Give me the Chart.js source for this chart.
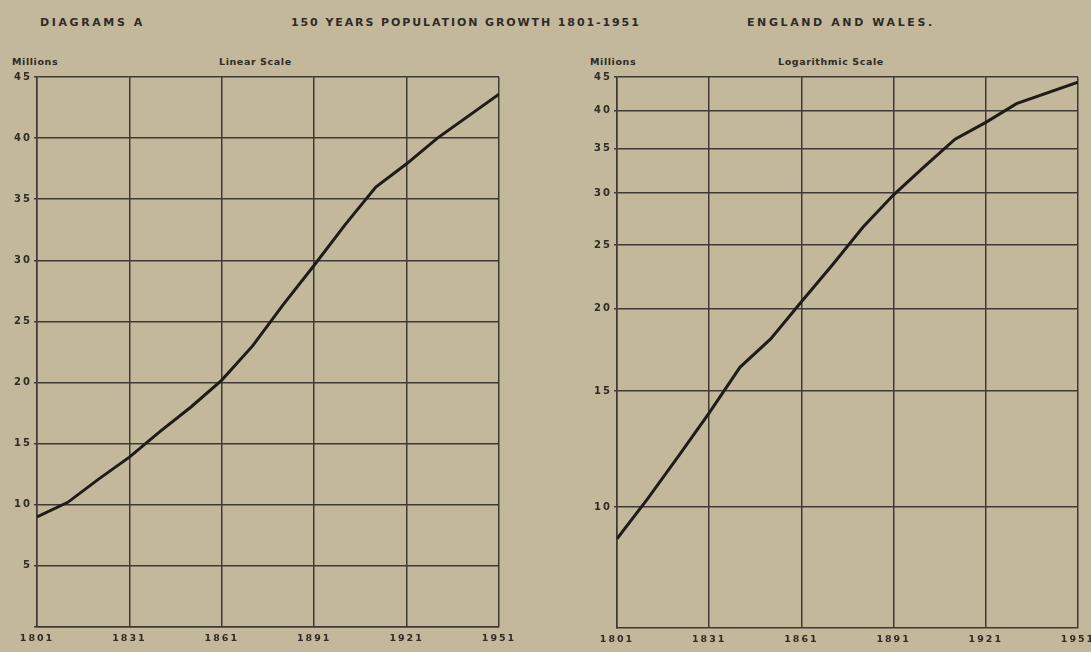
<!DOCTYPE html>
<html>
<head>
<meta charset="utf-8">
<script src="https://cdn.jsdelivr.net/npm/chart.js@4/dist/chart.umd.min.js"></script>
<style>
  body { margin:0; width:1091px; height:652px; background:#c4b89c; position:relative; overflow:hidden; }
  canvas { position:absolute; top:0; }
  .t { position:absolute; font-family:"DejaVu Sans", sans-serif; font-weight:bold; color:#2f2b25; white-space:nowrap; }
  .big { font-size:11px; letter-spacing:2.6px; top:16px; }
  .small { font-size:9.5px; letter-spacing:0.6px; top:56px; }
</style>
</head>
<body>
<div class="t big" style="left:40px">DIAGRAMS A</div>
<div class="t big" style="left:291px;letter-spacing:1.9px">150 YEARS POPULATION GROWTH 1801-1951</div>
<div class="t big" style="left:747px">ENGLAND AND WALES.</div>
<div class="t small" style="left:12px">Millions</div>
<div class="t small" style="left:219px">Linear Scale</div>
<div class="t small" style="left:590px">Millions</div>
<div class="t small" style="left:778px">Logarithmic Scale</div>
<canvas id="linChart" width="545" height="652" style="left:0"></canvas>
<canvas id="logChart" width="546" height="652" style="left:545px"></canvas>
<script>
// census years plotted (no census in 1941)
const years = [1801, 1811, 1821, 1831, 1841, 1851, 1861, 1871, 1881, 1891, 1901, 1911, 1921, 1931, 1951];
// population in millions
const linearValues = [9.0, 10.2, 12.1, 13.9, 16.0, 18.0, 20.2, 23.0, 26.4, 29.6, 32.9, 36.0, 37.9, 40.0, 43.6];
const logValues = [8.95, 10.3, 11.95, 13.9, 16.3, 18.0, 20.5, 23.3, 26.6, 29.8, 32.9, 36.2, 38.4, 41.0, 44.2];

const xTickYears = [1801, 1831, 1861, 1891, 1921, 1951];
const linearTicks = [0, 5, 10, 15, 20, 25, 30, 35, 40, 45];
const logTicks = [10, 15, 20, 25, 30, 35, 40, 45];

const INK = '#2f2b25';
const GRID = '#3e3a32';

const spacing = {
  id: 'spacing',
  beforeDraw(chart) { chart.ctx.letterSpacing = '2px'; }
};

function makeChart(id, values, yType, yMin, yTicks, yWidth, padRight, xHeight) {
  new Chart(document.getElementById(id), {
    type: 'line',
    data: {
      datasets: [{
        data: years.map((y, i) => ({ x: y, y: values[i] })),
        borderColor: '#1f1c18',
        borderWidth: 3,
        pointRadius: 0,
        tension: 0
      }]
    },
    plugins: [spacing],
    options: {
      responsive: false,
      animation: false,
      layout: { padding: { top: 77, right: padRight, left: 0, bottom: 0 } },
      plugins: { legend: { display: false }, tooltip: { enabled: false } },
      scales: {
        x: {
          type: 'linear', min: 1801, max: 1951,
          afterBuildTicks: s => { s.ticks = xTickYears.map(v => ({ value: v })); },
          afterFit: s => { s.height = xHeight; s.paddingLeft = 0; s.paddingRight = 0; },
          grid: { color: GRID, lineWidth: 1.5, drawTicks: false },
          border: { color: GRID, width: 1.5 },
          ticks: {
            color: INK, padding: 6, maxRotation: 0,
            font: { family: 'DejaVu Sans', size: 9.5, weight: 'bold' },
            callback: v => String(v)
          }
        },
        y: {
          type: yType, min: yMin, max: 45,
          afterBuildTicks: s => { s.ticks = yTicks.map(v => ({ value: v })); },
          afterFit: s => { s.width = yWidth; },
          grid: { color: GRID, lineWidth: 1.5, tickLength: 3 },
          border: { color: GRID, width: 1.5 },
          ticks: {
            color: INK, padding: 2,
            font: { family: 'DejaVu Sans', size: 10, weight: 'bold' },
            callback: v => v === 0 ? '' : String(v)
          }
        }
      }
    }
  });
}

makeChart('linChart', linearValues, 'linear', 0, linearTicks, 37, 46, 25);
makeChart('logChart', logValues, 'logarithmic', 6.55, logTicks, 72, 13, 24);
</script>
</body>
</html>
